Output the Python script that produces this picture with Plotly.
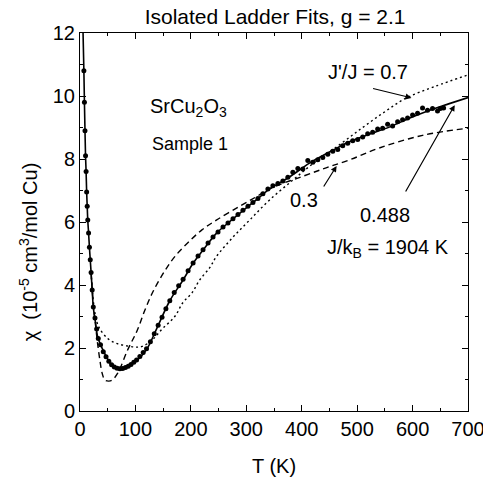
import plotly.graph_objects as go

# measured susceptibility, SrCu2O3 sample 1 (chi in 1e-5 cm^3/mol Cu)
data_T = [7, 8, 9, 10, 11, 12, 13, 14, 15.5, 17, 18.5, 20, 22, 24, 27, 30, 33, 37, 42, 47,
          52, 57, 62, 67, 72, 77, 82, 87, 92, 97, 102, 108, 114, 120, 127, 134, 141, 148, 155, 162,
          170, 178, 186, 195, 204, 213, 222, 231, 240, 249, 258, 267, 276, 285, 294, 303, 312, 321,
          330, 339, 348, 357, 366, 375, 384, 393, 402, 411, 420, 429, 438, 447, 456, 465, 474, 483,
          492, 501, 510, 519, 528, 537, 546, 555, 564, 573, 582, 591, 600, 609, 618, 627, 636, 645,
          650, 656]
data_chi = [10.8, 9.8, 8.9, 8.1, 7.6, 6.95, 6.5, 6.06, 5.65, 5.2, 4.8, 4.4, 3.84, 3.3, 2.95, 2.6,
            2.3, 2.1, 1.88, 1.72, 1.58, 1.47, 1.4, 1.36, 1.34, 1.35, 1.38, 1.42, 1.48, 1.55, 1.62,
            1.73, 1.86, 1.98, 2.2, 2.45, 2.72, 2.98, 3.25, 3.5, 3.76, 3.98, 4.18, 4.45, 4.7, 4.92,
            5.12, 5.33, 5.52, 5.68, 5.84, 5.97, 6.1, 6.24, 6.37, 6.5, 6.62, 6.75, 6.9, 7.05, 7.15,
            7.22, 7.3, 7.42, 7.58, 7.7, 7.68, 7.95, 7.9, 7.98, 8.05, 8.15, 8.25, 8.3, 8.42, 8.5,
            8.58, 8.62, 8.7, 8.8, 8.85, 8.95, 8.98, 9.1, 9.05, 9.18, 9.25, 9.3, 9.4, 9.45, 9.62,
            9.55, 9.6, 9.52, 9.6, 9.62]

# isolated ladder fit, J'/J = 0.488
fit488_T = [5.5, 7, 8, 9, 10, 11, 12, 13, 14, 15.5, 17, 18.5, 20, 22, 24, 28, 32, 39, 48, 59,
            75, 90, 104, 121, 138, 162, 186, 204, 222, 246, 270, 300, 318, 342, 378, 414, 450,
            486, 523, 559, 595, 631, 665, 700]
fit488_chi = [12.0, 10.8, 9.8, 8.9, 8.1, 7.6, 6.95, 6.5, 6.06, 5.65, 5.2, 4.8, 4.4, 3.84, 3.3,
              2.8, 2.35, 2.03, 1.71, 1.42, 1.35, 1.46, 1.62, 1.98, 2.6, 3.5, 4.16, 4.69, 5.11,
              5.64, 6.01, 6.45, 6.7, 7.05, 7.43, 7.87, 8.22, 8.55, 8.79, 9.02, 9.3, 9.55, 9.75, 9.95]

# fit J'/J = 0.7 (dotted)
fit07_T = [20, 22, 25, 30, 36, 50, 65, 81, 100, 112, 130, 148, 171, 186, 202, 216, 234, 246,
           276, 306, 342, 384, 420, 468, 510, 550, 589, 640, 700]
fit07_chi = [4.4, 3.9, 3.35, 2.85, 2.6, 2.3, 2.15, 2.08, 2.03, 2.05, 2.25, 2.6, 3.0, 3.45, 3.75,
             4.16, 4.55, 4.9, 5.52, 6.06, 6.7, 7.33, 7.85, 8.45, 9.0, 9.5, 9.94, 10.3, 10.67]

# fit J'/J = 0.3 (dashed)
fit03_T = [20, 22, 25, 27, 31, 36, 40, 45, 52, 58, 68, 86, 103, 117, 132, 153, 171, 195, 220,
           246, 288, 318, 348, 402, 444, 486, 540, 618, 700]
fit03_chi = [4.4, 3.84, 3.2, 2.9, 2.25, 1.6, 1.2, 0.98, 0.95, 0.98, 1.2, 1.94, 2.55, 3.2, 3.8,
             4.45, 4.9, 5.35, 5.75, 6.06, 6.5, 6.8, 7.1, 7.45, 7.72, 7.97, 8.35, 8.75, 8.98]

FONT = "Liberation Sans, Arial, sans-serif"

fig = go.Figure()

fig.add_trace(go.Scatter(x=fit07_T, y=fit07_chi, mode="lines", line_shape="spline",
                         line=dict(color="black", width=1.4, dash="2px,3px")))
fig.add_trace(go.Scatter(x=fit03_T, y=fit03_chi, mode="lines", line_shape="spline",
                         line=dict(color="black", width=1.4, dash="6px,4px")))
fig.add_trace(go.Scatter(x=fit488_T, y=fit488_chi, mode="lines", line_shape="spline",
                         line=dict(color="black", width=1.6)))
fig.add_trace(go.Scatter(x=data_T, y=data_chi, mode="markers",
                         marker=dict(color="black", size=5)))

axis_common = dict(
    showline=True, linecolor="black", linewidth=1, mirror="allticks",
    ticks="inside", ticklen=6, tickwidth=1, tickcolor="black",
    showgrid=False, zeroline=False, automargin=False,
    tickfont=dict(family=FONT, size=20, color="black"),
)

fig.update_xaxes(range=[0, 700], dtick=100, tick0=0,
                 minor=dict(dtick=50, ticks="inside", ticklen=3, tickcolor="black"),
                 **axis_common)
fig.update_yaxes(range=[0, 12], dtick=2, tick0=0,
                 minor=dict(dtick=1, ticks="inside", ticklen=3, tickcolor="black"),
                 **axis_common)

annotations = [
    # axis labels
    dict(text="T (K)", xref="paper", yref="paper", x=0.5, y=-0.1455, yanchor="middle",
         showarrow=False, font=dict(size=20)),
    dict(text="\u03c7  (10<sup>-5</sup> cm<sup>3</sup>/mol Cu)", xref="paper", yref="paper",
         x=-0.134, y=0.42, xanchor="center", yanchor="middle", textangle=-90,
         showarrow=False, font=dict(size=20)),
    # labels inside the plot
    dict(text="SrCu<sub>2</sub>O<sub>3</sub>", x=122, y=9.65, xanchor="left",
         showarrow=False, font=dict(size=20)),
    dict(text="Sample 1", x=126, y=8.48, xanchor="left", showarrow=False, font=dict(size=18)),
    dict(text="J'/J = 0.7", x=519, y=10.76, showarrow=False, font=dict(size=20)),
    dict(text="0.3", x=405, y=6.7, showarrow=False, font=dict(size=20)),
    dict(text="0.488", x=550, y=6.22, showarrow=False, font=dict(size=20)),
    dict(text="J/k<sub>B</sub> = 1904 K", x=555, y=5.15, showarrow=False, font=dict(size=20)),
    # arrows
    dict(x=598, y=9.94, ax=526, ay=10.25, axref="x", ayref="y", text="", showarrow=True,
         arrowhead=2, arrowsize=1, arrowwidth=1.2, arrowcolor="black"),
    dict(x=463, y=7.78, ax=438, ay=7.08, axref="x", ayref="y", text="", showarrow=True,
         arrowhead=2, arrowsize=1, arrowwidth=1.2, arrowcolor="black"),
    dict(x=676, y=9.71, ax=586, ay=6.92, axref="x", ayref="y", text="", showarrow=True,
         arrowhead=2, arrowsize=1, arrowwidth=1.2, arrowcolor="black"),
]

# the page adds an 8px body margin, so the figure is 8px smaller on each axis
fig.update_layout(
    width=483, height=471,
    margin=dict(l=72, r=23, t=25, b=68),
    title=dict(text="Isolated Ladder Fits, g = 2.1", x=0.553, xanchor="center",
               y=1 - 9 / 471, yanchor="middle", font=dict(family=FONT, size=21)),
    paper_bgcolor="white", plot_bgcolor="white",
    showlegend=False,
    font=dict(family=FONT, size=20, color="black"),
    annotations=annotations,
)

fig.write_html("out.html")
